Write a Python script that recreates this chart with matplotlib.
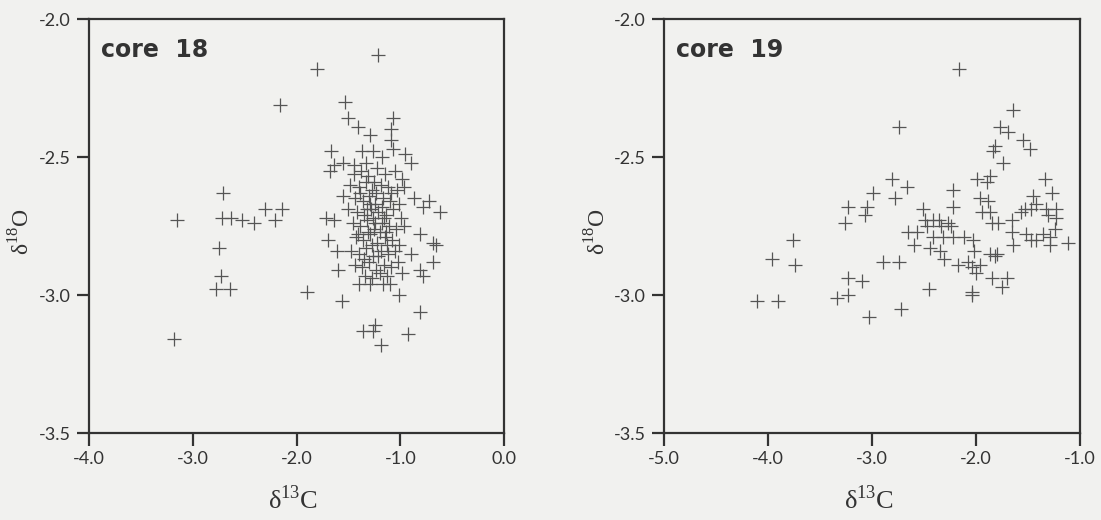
import numpy as np
import matplotlib.pyplot as plt

plt.rcParams['mathtext.fontset'] = 'custom'
plt.rcParams['mathtext.rm'] = 'Liberation Serif'

# core 18: d13C, d18O
c18_x = [-1.21, -1.80, -2.16, -1.53, -1.07, -1.50, -1.41, -1.29, -1.09, -1.09,
         -1.67, -1.37, -1.26, -1.07, -0.95, -0.90, -1.64, -1.55, -1.45, -1.68,
         -2.71, -3.15, -2.72, -2.63, -2.53, -2.41, -2.30, -2.14, -2.21, -2.75,
         -2.73, -2.78, -2.64, -3.18, -1.90,
         -0.87, -0.78, -0.72, -0.62, -0.66, -0.68, -0.81, -0.78, -0.90, -0.98,
         -0.81, -0.68,
         -1.56, -1.01, -0.81, -1.36, -1.26, -1.24, -0.93, -1.19,
         -1.72, -1.70, -1.55, -1.60, -1.61, -1.64, -1.40, -1.29, -1.17, -1.10,
         -1.45, -1.38, -1.31, -1.22, -1.15, -1.05, -0.98,
         -1.48, -1.40, -1.33, -1.27, -1.19, -1.12, -1.03, -0.96,
         -1.44, -1.36, -1.30, -1.24, -1.17, -1.10, -1.01,
         -1.50, -1.42, -1.35, -1.28, -1.21, -1.14, -1.07, -0.99,
         -1.46, -1.39, -1.32, -1.25, -1.18, -1.11, -1.04, -0.96,
         -1.43, -1.36, -1.29, -1.22, -1.15, -1.08, -1.01,
         -1.47, -1.40, -1.33, -1.26, -1.19, -1.12, -1.05,
         -1.44, -1.37, -1.30, -1.23, -1.16, -1.09, -1.02,
         -1.34, -1.27, -1.20, -1.13,
         -1.26, -1.23, -1.31, -1.18, -1.13, -1.35, -1.20, -1.27, -1.16, -1.09,
         -1.39, -1.33, -1.18, -1.41, -1.24, -1.29, -1.21, -1.14, -1.32, -1.25]
c18_y = [-2.13, -2.18, -2.31, -2.30, -2.36, -2.36, -2.39, -2.42, -2.40, -2.44,
         -2.48, -2.48, -2.48, -2.47, -2.49, -2.52, -2.53, -2.52, -2.53, -2.55,
         -2.63, -2.73, -2.72, -2.72, -2.73, -2.74, -2.69, -2.69, -2.73, -2.83,
         -2.93, -2.98, -2.98, -3.16, -2.99,
         -2.65, -2.68, -2.66, -2.70, -2.82, -2.88, -2.91, -2.93, -2.85, -2.92,
         -2.78, -2.81,
         -3.02, -3.00, -3.06, -3.13, -3.13, -3.11, -3.14, -3.18,
         -2.72, -2.80, -2.64, -2.91, -2.84, -2.73, -2.96, -2.96, -2.96, -2.96,
         -2.56, -2.55, -2.57, -2.54, -2.56, -2.55, -2.58,
         -2.60, -2.61, -2.59, -2.62, -2.60, -2.61, -2.62, -2.61,
         -2.65, -2.66, -2.64, -2.67, -2.65, -2.66, -2.67,
         -2.69, -2.70, -2.71, -2.69, -2.70, -2.71, -2.69, -2.72,
         -2.74, -2.75, -2.73, -2.76, -2.74, -2.75, -2.76, -2.75,
         -2.79, -2.80, -2.78, -2.81, -2.79, -2.80, -2.82,
         -2.84, -2.85, -2.83, -2.86, -2.84, -2.85, -2.84,
         -2.89, -2.90, -2.88, -2.91, -2.89, -2.90, -2.88,
         -2.93, -2.94, -2.92, -2.93,
         -2.72, -2.63, -2.77, -2.68, -2.82, -2.87, -2.77, -2.82, -2.72, -2.63,
         -2.63, -2.52, -2.50, -2.78, -2.74, -2.67, -2.86, -2.77, -2.69, -2.59]

# core 19: d13C, d18O
c19_x = [-2.16, -1.64, -2.74, -1.77, -1.69, -1.55, -1.48, -1.82, -1.84, -1.74,
         -2.81, -2.66, -2.99, -2.78, -2.22, -1.99, -1.89, -1.87, -1.34, -1.96,
         -1.88, -1.45, -1.27,
         -3.23, -3.05, -3.07, -3.26, -2.51, -2.22,
         -1.94, -1.87, -1.85, -1.79,
         -1.65, -1.57, -1.53, -1.47, -1.42, -1.33, -1.23, -1.31, -1.23,
         -2.49, -2.41, -2.36, -2.27, -2.47, -2.34, -2.24,
         -2.65, -2.57, -2.41, -2.32, -2.22, -2.12, -2.03,
         -1.65, -1.36, -1.29, -1.24, -1.47, -1.42, -1.12, -1.52,
         -2.60, -2.44, -2.35, -2.31, -2.02, -1.82,
         -2.74, -2.17, -2.08, -1.87,
         -2.04, -1.96, -2.00,
         -3.76, -3.96, -3.74, -3.23, -3.10, -4.11, -3.90, -3.34, -3.23, -3.03,
         -2.72, -2.89, -2.45, -2.04, -2.04, -1.85, -1.70, -1.75, -1.80, -1.64,
         -1.29]
c19_y = [-2.18, -2.33, -2.39, -2.39, -2.41, -2.44, -2.47, -2.46, -2.48, -2.52,
         -2.58, -2.61, -2.63, -2.65, -2.62, -2.58, -2.59, -2.57, -2.58, -2.65,
         -2.66, -2.64, -2.63,
         -2.68, -2.68, -2.71, -2.74, -2.69, -2.68,
         -2.70, -2.70, -2.74, -2.74,
         -2.73, -2.70, -2.69, -2.69, -2.67, -2.69, -2.69, -2.71, -2.72,
         -2.73, -2.73, -2.73, -2.74, -2.75, -2.75, -2.75,
         -2.77, -2.77, -2.79, -2.79, -2.79, -2.79, -2.80,
         -2.77, -2.78, -2.79, -2.76, -2.80, -2.80, -2.81, -2.78,
         -2.82, -2.83, -2.84, -2.87, -2.84, -2.86,
         -2.88, -2.89, -2.88, -2.85,
         -2.90, -2.89, -2.92,
         -2.80, -2.87, -2.89, -2.94, -2.95, -3.02, -3.02, -3.01, -3.00, -3.08,
         -3.05, -2.88, -2.98, -2.99, -3.00, -2.94, -2.94, -2.97, -2.85, -2.82,
         -2.82]

y_ticks = [-2.0, -2.5, -3.0, -3.5]
x_ticks_18 = [-4.0, -3.0, -2.0, -1.0, 0.0]
x_ticks_19 = [-5.0, -4.0, -3.0, -2.0, -1.0]

bg = '#f1f1ef'
ink = '#333333'
mark = '#555555'

W, H = 1101, 520
fig = plt.figure(figsize=(W / 100, H / 100), dpi=100, facecolor=bg)
ax1 = fig.add_axes([89/W, 87/H, 415/W, 414/H])
ax2 = fig.add_axes([664/W, 87/H, 416/W, 414/H])

# (axes, x, y, x ticks, title, x-label centre px, y-label centre px)
panels = [(ax1, c18_x, c18_y, x_ticks_18, 'core  18', 293, 22),
          (ax2, c19_x, c19_y, x_ticks_19, 'core  19', 869, 598)]

for ax, xs, ys, xt, title, xl_px, yl_px in panels:
    ax.set_facecolor(bg)
    ax.plot(xs, ys, linestyle='none', marker='+', markersize=10,
            markeredgewidth=0.9, color=mark)
    ax.set_xlim(xt[0], xt[-1])
    ax.set_ylim(-3.5, -2.0)
    ax.set_xticks(xt)
    ax.set_xticklabels(['%.1f' % v for v in xt])
    ax.set_yticks(y_ticks)
    ax.set_yticklabels(['%.1f' % v for v in y_ticks])
    for s in ax.spines.values():
        s.set_linewidth(1.6)
        s.set_color(ink)
    ax.tick_params(direction='out', length=9, width=1.6, color=ink,
                   labelcolor=ink, labelsize=13, pad=4)
    for lab in ax.get_xticklabels() + ax.get_yticklabels():
        lab.set_family('Lato')
    ax.text(0.03, 0.925, title, transform=ax.transAxes, fontsize=17,
            fontweight='bold', family='DejaVu Sans', color=ink, va='center')
    fig.text(xl_px / W, 1 - 500 / H, 'δ$^{\\mathregular{13}}$C', fontsize=19,
             family='Liberation Serif', color=ink, ha='center', va='center')
    fig.text(yl_px / W, 1 - 232 / H, 'δ$^{\\mathregular{18}}$O', fontsize=17,
             family='Liberation Serif', color=ink, ha='center', va='center',
             rotation=90)

fig.savefig('out.png', dpi=100, facecolor=bg)
